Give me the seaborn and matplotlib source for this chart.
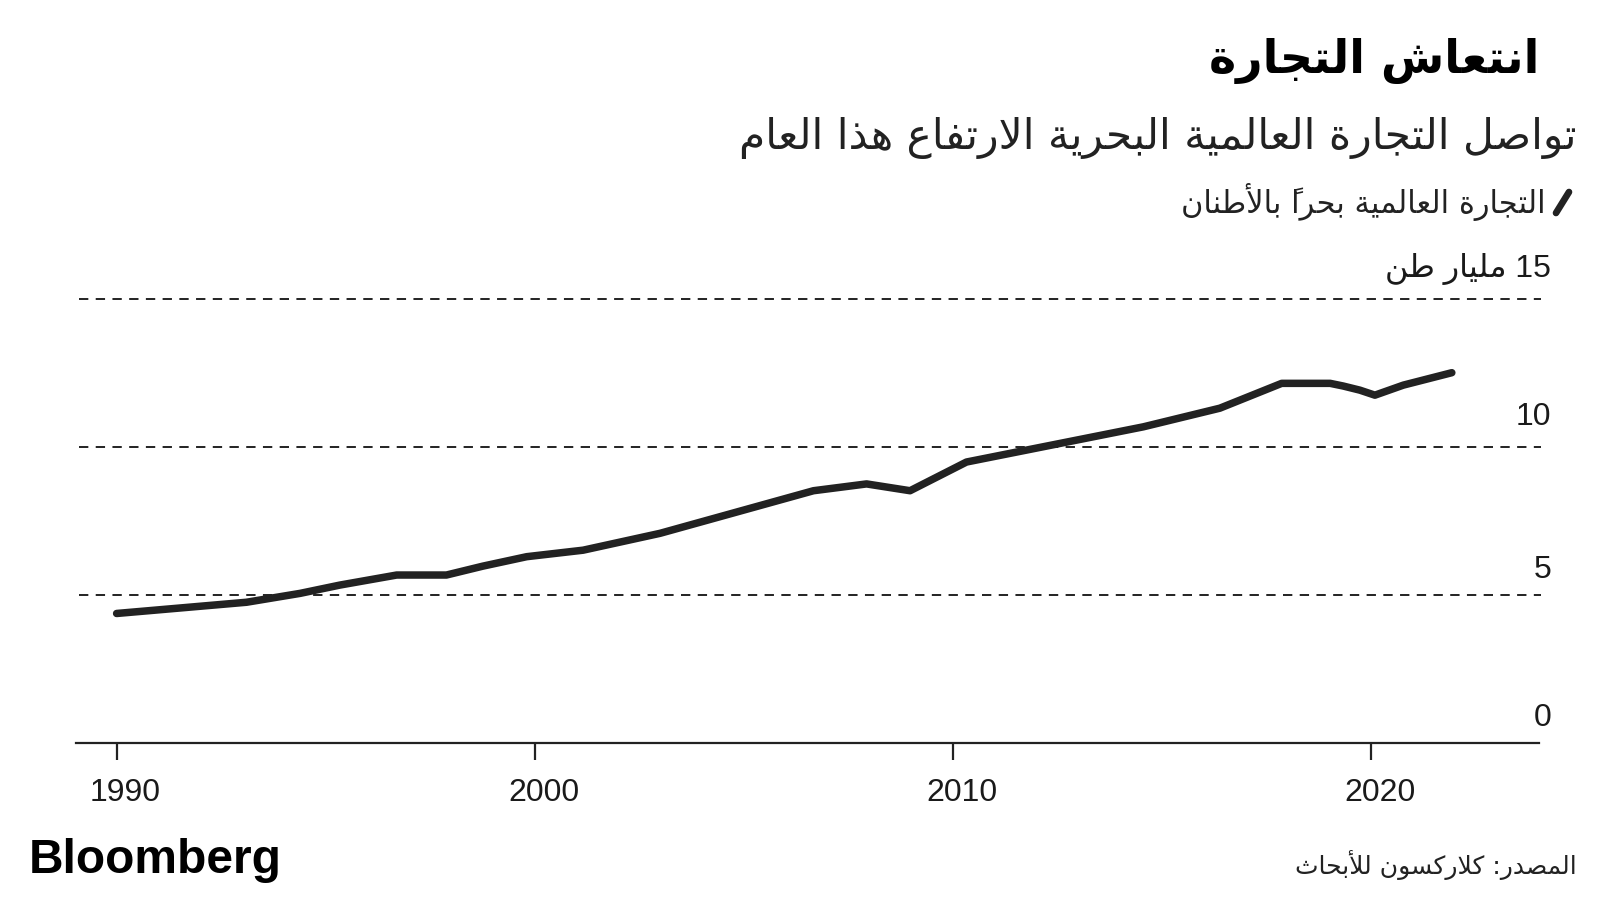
import matplotlib
matplotlib.use("Agg")
import matplotlib.pyplot as plt
import seaborn as sns
import pandas as pd
from matplotlib import transforms
from matplotlib.lines import Line2D

# ---------------- data ----------------
years = [1990.0, 1993.11, 1994.39, 1995.34, 1996.70, 1997.89, 1998.76, 1999.81,
         2001.16, 2003.0, 2006.67, 2007.94, 2008.98, 2010.33, 2014.56, 2016.39,
         2017.87, 2019.03, 2019.34, 2019.74, 2020.10, 2020.78, 2021.94]
trade_bn_tonnes = [4.38, 4.76, 5.06, 5.34, 5.68, 5.68, 5.98, 6.30,
                   6.52, 7.09, 8.53, 8.76, 8.53, 9.50, 10.69, 11.32,
                   12.16, 12.16, 12.07, 11.93, 11.76, 12.10, 12.52]
x_ticks = [1990, 2000, 2010, 2020]
x_tick_labels = ["1990", "2000", "2010", "2020"]
y_ticks = [0, 5, 10, 15]
y_tick_labels = ["0", "5", "10", "15 مليار طن"]

title = "انتعاش التجارة"
subtitle = "تواصل التجارة العالمية البحرية الارتفاع هذا العام"
legend_label = "التجارة العالمية بحراً بالأطنان"
source = "المصدر: كلاركسون للأبحاث"
brand = "Bloomberg"

# ---------------- minimal Arabic shaping + bidi for matplotlib ----------------
_F = {  # isolated, final, initial, medial
    "\u0621": ("\uFE80", None, None, None),
    "\u0622": ("\uFE81", "\uFE82", None, None),
    "\u0623": ("\uFE83", "\uFE84", None, None),
    "\u0624": ("\uFE85", "\uFE86", None, None),
    "\u0625": ("\uFE87", "\uFE88", None, None),
    "\u0626": ("\uFE89", "\uFE8A", "\uFE8B", "\uFE8C"),
    "\u0627": ("\uFE8D", "\uFE8E", None, None),
    "\u0628": ("\uFE8F", "\uFE90", "\uFE91", "\uFE92"),
    "\u0629": ("\uFE93", "\uFE94", None, None),
    "\u062A": ("\uFE95", "\uFE96", "\uFE97", "\uFE98"),
    "\u062B": ("\uFE99", "\uFE9A", "\uFE9B", "\uFE9C"),
    "\u062C": ("\uFE9D", "\uFE9E", "\uFE9F", "\uFEA0"),
    "\u062D": ("\uFEA1", "\uFEA2", "\uFEA3", "\uFEA4"),
    "\u062E": ("\uFEA5", "\uFEA6", "\uFEA7", "\uFEA8"),
    "\u062F": ("\uFEA9", "\uFEAA", None, None),
    "\u0630": ("\uFEAB", "\uFEAC", None, None),
    "\u0631": ("\uFEAD", "\uFEAE", None, None),
    "\u0632": ("\uFEAF", "\uFEB0", None, None),
    "\u0633": ("\uFEB1", "\uFEB2", "\uFEB3", "\uFEB4"),
    "\u0634": ("\uFEB5", "\uFEB6", "\uFEB7", "\uFEB8"),
    "\u0635": ("\uFEB9", "\uFEBA", "\uFEBB", "\uFEBC"),
    "\u0636": ("\uFEBD", "\uFEBE", "\uFEBF", "\uFEC0"),
    "\u0637": ("\uFEC1", "\uFEC2", "\uFEC3", "\uFEC4"),
    "\u0638": ("\uFEC5", "\uFEC6", "\uFEC7", "\uFEC8"),
    "\u0639": ("\uFEC9", "\uFECA", "\uFECB", "\uFECC"),
    "\u063A": ("\uFECD", "\uFECE", "\uFECF", "\uFED0"),
    "\u0641": ("\uFED1", "\uFED2", "\uFED3", "\uFED4"),
    "\u0642": ("\uFED5", "\uFED6", "\uFED7", "\uFED8"),
    "\u0643": ("\uFED9", "\uFEDA", "\uFEDB", "\uFEDC"),
    "\u0644": ("\uFEDD", "\uFEDE", "\uFEDF", "\uFEE0"),
    "\u0645": ("\uFEE1", "\uFEE2", "\uFEE3", "\uFEE4"),
    "\u0646": ("\uFEE5", "\uFEE6", "\uFEE7", "\uFEE8"),
    "\u0647": ("\uFEE9", "\uFEEA", "\uFEEB", "\uFEEC"),
    "\u0648": ("\uFEED", "\uFEEE", None, None),
    "\u0649": ("\uFEEF", "\uFEF0", None, None),
    "\u064A": ("\uFEF1", "\uFEF2", "\uFEF3", "\uFEF4"),
}
_LA = {"\u0622": ("\uFEF5", "\uFEF6"), "\u0623": ("\uFEF7", "\uFEF8"),
       "\u0625": ("\uFEF9", "\uFEFA"), "\u0627": ("\uFEFB", "\uFEFC")}


def _is_mark(c):
    return "\u064B" <= c <= "\u0652"


def ar(text):
    items = []
    for c in text:
        if _is_mark(c) and items:
            items[-1][1].append(c)
        else:
            items.append([c, []])
    merged = []
    j = 0
    while j < len(items):
        c, m = items[j]
        if c == "\u0644" and j + 1 < len(items) and items[j + 1][0] in _LA:
            merged.append([("LA", items[j + 1][0]), m + items[j + 1][1]])
            j += 2
        else:
            merged.append([c, m])
            j += 1

    def jn(c):
        if isinstance(c, tuple):
            return False
        f = _F.get(c)
        return f is not None and f[2] is not None

    def jp(c):
        if isinstance(c, tuple):
            return True
        f = _F.get(c)
        return f is not None and f[1] is not None

    clusters = []
    for k, (c, m) in enumerate(merged):
        prev = merged[k - 1][0] if k > 0 else None
        nxt = merged[k + 1][0] if k + 1 < len(merged) else None
        p = prev is not None and jn(prev) and jp(c)
        n = nxt is not None and jn(c) and jp(nxt)
        if isinstance(c, tuple):
            iso, fin = _LA[c[1]]
            g = fin if p else iso
        elif c in _F:
            f = _F[c]
            g = f[3] if (p and n) else f[1] if p else f[2] if n else f[0]
        else:
            g = c
        # zero-advance marks are emitted before their base so they sit over it
        clusters.append("".join(m) + g)
    # bidi: reverse, but keep runs of latin/digits left-to-right
    runs = []
    for cl in clusters:
        ch = cl[-1]
        ltr = ch.isascii() and ch.isalnum()
        if runs and runs[-1][0] == ltr:
            runs[-1][1].append(cl)
        else:
            runs.append([ltr, [cl]])
    out = []
    for ltr, cls in reversed(runs):
        out.extend(cls if ltr else list(reversed(cls)))
    return "".join(out)


# ---------------- figure ----------------
sns.set_theme(style="white")
plt.rcParams["font.family"] = ["Liberation Sans", "DejaVu Sans"]
INK = "#1a1a1a"

fig = plt.figure(figsize=(16, 9), dpi=100)
fig.patch.set_facecolor("white")
ax = fig.add_axes([0.0478, 0.1744, 0.962 - 0.0478, 0.6674 - 0.1744])
ax.set_facecolor("white")

df = pd.DataFrame({"year": years, "trade": trade_bn_tonnes})
sns.lineplot(data=df, x="year", y="trade", ax=ax, color="#222222", lw=5.4,
             sort=False, solid_capstyle="round", solid_joinstyle="round", zorder=3)

ax.set_xlim(1989.04, 2024.03)
ax.set_ylim(0, 15)
ax.set_xlabel("")
ax.set_ylabel("")

# dashed horizontal grid
for v in y_ticks[1:]:
    ax.axhline(v, color="#222222", lw=1.4, linestyle=(0, (4.8, 3.8)),
               xmin=0.002, xmax=1.0014, clip_on=False, zorder=1)

for s in ["top", "right", "left"]:
    ax.spines[s].set_visible(False)
ax.spines["bottom"].set_color("#222222")
ax.spines["bottom"].set_linewidth(1.6)

ax.set_xticks(x_ticks)
ax.set_xticklabels(x_tick_labels, fontsize=23, color=INK, family="Liberation Sans")
ax.tick_params(axis="x", direction="out", length=12.2, width=1.6, color="#222222",
               pad=13, bottom=True)
offset = transforms.ScaledTranslation(0.09, 0, fig.dpi_scale_trans)
for lbl in ax.get_xticklabels():
    lbl.set_transform(lbl.get_transform() + offset)

ax.set_yticks([])
ytrans = transforms.blended_transform_factory(ax.transAxes, ax.transData) + \
    transforms.ScaledTranslation(0, 0.30, fig.dpi_scale_trans)
for v, lab in zip(y_ticks, y_tick_labels):
    dy = 0 if v >= 10 else -0.05
    t = ytrans + transforms.ScaledTranslation(0, dy, fig.dpi_scale_trans)
    ax.text(1.0082, v, ar(lab), transform=t, ha="right", va="center",
            fontsize=23, color=INK, family=["Liberation Sans", "DejaVu Sans"])

# ---------------- titles ----------------
fig.text(0.962, 0.932, ar(title), ha="right", va="center", fontsize=33,
         fontweight="bold", color="#000000", family="DejaVu Sans")
fig.text(0.9856, 0.847, ar(subtitle), ha="right", va="center", fontsize=30.5,
         color="#222222", family="DejaVu Sans")
fig.text(0.966, 0.776, ar(legend_label), ha="right", va="center", fontsize=22,
         color="#222222", family="DejaVu Sans")
fig.add_artist(Line2D([1556 / 1600, 1569 / 1600], [1 - 213 / 900, 1 - 192 / 900],
                      transform=fig.transFigure, color="#222222", lw=4.8,
                      solid_capstyle="round"))

# ---------------- footer ----------------
fig.text(0.0178, 0.044, brand, ha="left", va="center", fontsize=34.5,
         fontweight="bold", color="#000000", family="Liberation Sans")
fig.text(0.9856, 0.039, ar(source), ha="right", va="center", fontsize=18,
         color="#222222", family="DejaVu Sans")

fig.savefig("out.png", dpi=100, facecolor="white")
